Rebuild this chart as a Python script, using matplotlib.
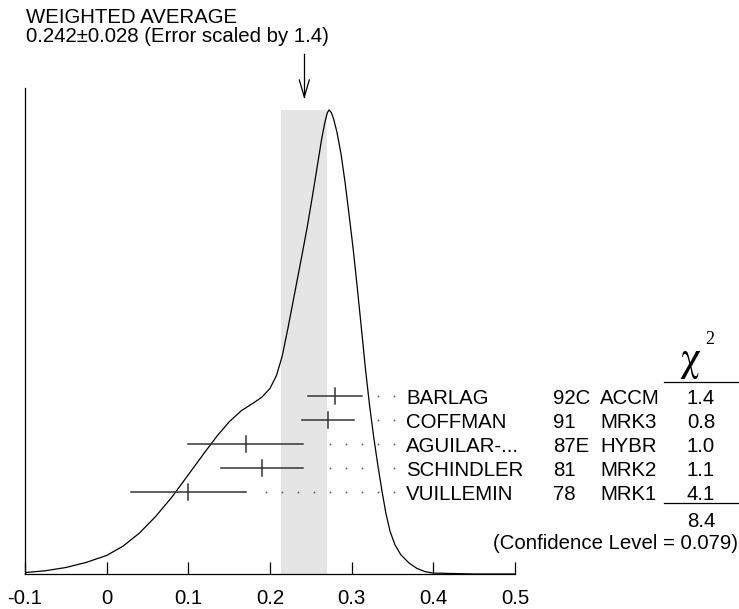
import numpy as np
import matplotlib
matplotlib.use('Agg')
import matplotlib.pyplot as plt
from matplotlib import transforms

plt.rcParams['font.family'] = ['Liberation Sans', 'DejaVu Sans']

# ideogram curve (height relative to the peak)
curve_x = [-0.100, -0.075, -0.050, -0.025, 0.000, 0.020, 0.040, 0.060, 0.080, 0.100,
           0.120, 0.135, 0.150, 0.165, 0.180, 0.190, 0.200, 0.208, 0.215, 0.222,
           0.228, 0.234, 0.240, 0.246, 0.252, 0.258, 0.263, 0.267, 0.270, 0.272,
           0.275, 0.278, 0.282, 0.287, 0.292, 0.297, 0.302, 0.307, 0.312, 0.317,
           0.322, 0.327, 0.332, 0.337, 0.342, 0.347, 0.353, 0.360, 0.370, 0.380,
           0.390, 0.400, 0.450, 0.500]
curve_h = [0.003, 0.007, 0.014, 0.025, 0.040, 0.060, 0.088, 0.124, 0.166, 0.214,
           0.262, 0.297, 0.328, 0.352, 0.369, 0.381, 0.400, 0.428, 0.470, 0.530,
           0.585, 0.640, 0.695, 0.752, 0.815, 0.880, 0.935, 0.972, 0.993, 1.000,
           0.995, 0.980, 0.952, 0.905, 0.843, 0.772, 0.698, 0.615, 0.528, 0.440,
           0.362, 0.295, 0.235, 0.180, 0.130, 0.092, 0.063, 0.042, 0.024, 0.012,
           0.005, 0.002, 0.000, 0.000]

names = ['BARLAG', 'COFFMAN', 'AGUILAR-...', 'SCHINDLER', 'VUILLEMIN']
years = ['92C', '91', '87E', '81', '78']
methods = ['ACCM', 'MRK3', 'HYBR', 'MRK2', 'MRK1']
values = [0.280, 0.271, 0.170, 0.190, 0.100]
errors = [0.033, 0.032, 0.070, 0.050, 0.070]
chi2 = [1.4, 0.8, 1.0, 1.1, 4.1]
chi2_total = 8.4
conf_level = 0.079

avg = 0.242
avg_err = 0.028
err_scale = 1.4

ticks = [-0.1, 0, 0.1, 0.2, 0.3, 0.4, 0.5]
tick_labels = ['-0.1', '0', '0.1', '0.2', '0.3', '0.4', '0.5']

W, H = 739, 609
fs = 14.7
fig = plt.figure(figsize=(W / 100, H / 100), dpi=100)

# plot area: x axis from px 25 to 515, baseline at px 574, left line up to px 88
ax = fig.add_axes([25 / W, 1 - 574 / H, 490 / W, (574 - 88) / H])
ax.set_xlim(-0.1, 0.5)
ax.set_ylim(0, 486 / 464)
ax.fill_between([avg - avg_err, avg + avg_err], 0, max(curve_h),
                color='#e5e5e5', lw=0, zorder=0)
ax.plot(curve_x, curve_h, color='black', lw=0.9, zorder=2)
ax.spines['top'].set_visible(False)
ax.spines['right'].set_visible(False)
ax.spines['left'].set_linewidth(0.9)
ax.spines['bottom'].set_linewidth(0.9)
ax.set_yticks([])
ax.set_xticks(ticks)
ax.set_xticklabels(tick_labels, fontsize=fs)
ax.tick_params(axis='x', direction='in', length=8.6, width=0.9, pad=11)
ax.patch.set_visible(False)

# overlay in pixel units (y from the top) for the labels and rows
ov = fig.add_axes([0, 0, 1, 1])
ov.set_xlim(0, W)
ov.set_ylim(H, 0)
ov.axis('off')
trans = transforms.blended_transform_factory(ax.transData, ov.transData)

ov.text(26, 23, 'WEIGHTED AVERAGE', fontsize=fs, va='baseline')
ov.text(26, 42, f'{avg:.3f}\u00b1{avg_err:.3f} (Error scaled by {err_scale})',
        fontsize=fs, va='baseline')

px_avg = ax.transData.transform((avg, 0))[0]
ov.plot([px_avg, px_avg], [54, 97], color='black', lw=0.9)
ov.plot([px_avg - 5, px_avg, px_avg + 5], [80, 97, 80], color='black', lw=0.9)

for i in range(len(names)):
    y = 396 + 24 * i
    v, e = values[i], errors[i]
    ov.plot([v - e, v + e], [y, y], transform=trans, color='#333333', lw=1.1)
    ov.plot([v, v], [y - 8, y + 8], transform=trans, color='#333333', lw=1.1)
    end_px = ax.transData.transform((v + e, 0))[0]
    dots = np.arange(394, end_px + 13, -16)
    ov.plot(dots, [y] * len(dots), ls='none', marker='o', ms=1.3, mew=0,
            color='#555555')
    ov.text(406, y + 7.5, names[i], fontsize=fs, va='baseline')
    ov.text(553, y + 7.5, years[i], fontsize=fs, va='baseline')
    ov.text(600, y + 7.5, methods[i], fontsize=fs, va='baseline')
    ov.text(701, y + 7.5, f'{chi2[i]:.1f}', fontsize=fs, va='baseline', ha='center')

ov.text(690, 361, r'$\mathrm{\chi}$', math_fontfamily='stix', fontsize=30,
        ha='center', va='center')
ov.text(710, 340, '2', family='Liberation Serif', fontsize=13,
        ha='center', va='center')
ov.plot([664, 739], [382, 382], color='black', lw=0.9)
ov.plot([664, 739], [503, 503], color='black', lw=0.9)
ov.text(701, 527, f'{chi2_total:.1f}', fontsize=fs, va='baseline', ha='center')
ov.text(738, 549, f'(Confidence Level = {conf_level:.3f})', fontsize=fs,
        va='baseline', ha='right')

fig.savefig('out.png', dpi=100)
